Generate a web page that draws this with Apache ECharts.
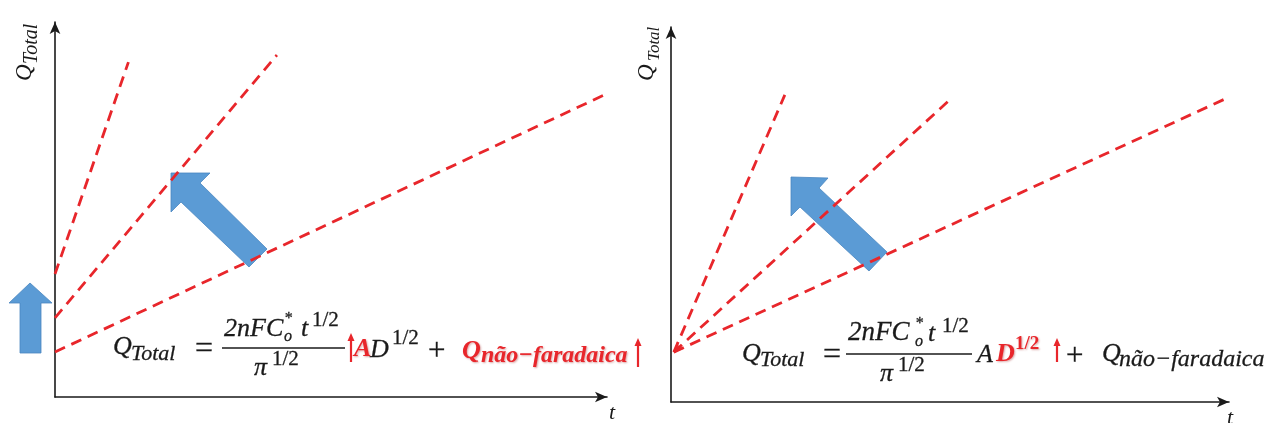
<!DOCTYPE html>
<html>
<head>
<meta charset="utf-8">
<script src="https://cdn.jsdelivr.net/npm/echarts@6/dist/echarts.min.js"></script>
<style>
html, body { margin: 0; padding: 0; background: #fff; }
#chart { width: 1268px; height: 423px; }
</style>
</head>
<body>
<div id="chart"></div>
<script>
// dashed lines, [t, Q] in axis units (0..100)
const leftSteep = [[0, 32.8], [13.3, 89.3]]
const leftMid = [[0, 21.1], [40.2, 91.2]]
const leftFlat = [[0, 12.0], [100, 80.9]]
const rightSteep = [[0.5, 13.3], [20.4, 81.9]]
const rightMid = [[0.5, 13.3], [50.5, 81.3]]
const rightFlat = [[0.5, 13.3], [100, 81.3]]
const rightOrigin = [[0.5, 13.3]]

const RED = '#e8262b'
const BLUE = '#5b9bd5'
const INK = '#1a1a1a'
const SERIF = '"Liberation Serif", "DejaVu Serif", serif'

let myChart = echarts.init(document.getElementById('chart'))

// text placed by its baseline
const tx = (s, x, base, size, opt) => {
    opt = opt || {}
    return {
        type: 'text',
        x: x,
        y: base - 0.32 * size,
        z: 10,
        style: {
            text: s,
            font: (opt.italic === false ? '' : 'italic ') + (opt.bold ? 'bold ' : '') + size + 'px ' + SERIF,
            fill: opt.color || INK,
            stroke: opt.bold ? 'transparent' : INK,
            lineWidth: opt.bold ? 0 : 0.3,
            align: 'left',
            verticalAlign: 'middle',
            textAlign: 'left',
            textVerticalAlign: 'middle',
            textShadowColor: opt.bold ? 'rgba(150,0,0,0.35)' : 'transparent',
            textShadowBlur: opt.bold ? 2 : 0,
            textShadowOffsetX: opt.bold ? 1 : 0,
            textShadowOffsetY: opt.bold ? 1 : 0
        }
    }
}
// rotated axis title (reads bottom to top)
const vtx = (s, x, y, size) => ({
    type: 'text',
    x: x,
    y: y,
    rotation: Math.PI / 2,
    style: {
        text: s,
        font: 'italic ' + size + 'px ' + SERIF,
        fill: INK,
        align: 'left',
        verticalAlign: 'bottom',
        textAlign: 'left',
        textVerticalAlign: 'bottom'
    }
})
const bar = (x1, x2, y) => ({
    type: 'line',
    z: 10,
    shape: { x1: x1, y1: y, x2: x2, y2: y },
    style: { stroke: INK, lineWidth: 1.4 }
})
const upArrow = (x, top, bottom) => ({
    type: 'group',
    z: 10,
    children: [
        { type: 'line', shape: { x1: x, y1: bottom, x2: x, y2: top + 6 }, style: { stroke: RED, lineWidth: 2.2 } },
        { type: 'polygon', shape: { points: [[x - 3.5, top + 8], [x, top], [x + 3.5, top + 8]] }, style: { fill: RED } }
    ]
})
const blueArrow = (pts) => ({
    type: 'polygon',
    z: 0,
    shape: { points: pts },
    style: { fill: BLUE, stroke: '#4a86c0', lineWidth: 0.8 }
})

const dashed = (xi, data) => ({
    type: 'line',
    xAxisIndex: xi,
    yAxisIndex: xi,
    data: data,
    symbol: 'none',
    silent: true,
    z: 3,
    lineStyle: { color: RED, width: 2.8, type: [11, 7] }
})

const axisX = (gi, gap) => ({
    type: 'value',
    gridIndex: gi,
    min: 0,
    max: 100,
    name: 't',
    nameLocation: 'end',
    nameGap: gap,
    nameTextStyle: {
        fontFamily: SERIF, fontStyle: 'italic', fontSize: 22, color: INK,
        align: 'center', verticalAlign: 'top', padding: [5, 0, 0, 0]
    },
    axisLine: { show: true, symbol: ['none', 'arrow'], symbolSize: [8, 12], lineStyle: { color: INK, width: 1.6 } },
    axisTick: { show: false },
    axisLabel: { show: false },
    splitLine: { show: false }
})
const axisY = (gi) => ({
    type: 'value',
    gridIndex: gi,
    min: 0,
    max: 100,
    axisLine: { show: true, symbol: ['none', 'arrow'], symbolSize: [8, 12], lineStyle: { color: INK, width: 1.6 } },
    axisTick: { show: false },
    axisLabel: { show: false },
    splitLine: { show: false }
})

const option = {
    animation: false,
    backgroundColor: '#fff',
    grid: [
        { left: 55, top: 22, width: 552, height: 375, containLabel: false, outerBoundsMode: 'none' },
        { left: 671, top: 27, width: 558, height: 375, containLabel: false, outerBoundsMode: 'none' }
    ],
    xAxis: [axisX(0, 5), axisX(1, 1)],
    yAxis: [axisY(0), axisY(1)],
    series: [
        dashed(0, leftSteep),
        dashed(0, leftMid),
        dashed(0, leftFlat),
        dashed(1, rightSteep),
        dashed(1, rightMid),
        dashed(1, rightFlat),
        {
            type: 'scatter',
            xAxisIndex: 1,
            yAxisIndex: 1,
            data: rightOrigin,
            symbol: 'arrow',
            symbolSize: [8, 10],
            symbolRotate: 135,
            itemStyle: { color: RED },
            silent: true
        }
    ],
    graphic: [
        // blue arrows
        blueArrow([[30, 283], [52, 303], [41, 303], [41, 353], [20, 353], [20, 303], [9, 303]]),
        blueArrow([[171, 173], [210, 173], [200, 183], [267, 249], [249, 267], [181, 202], [171, 212]]),
        blueArrow([[791, 177], [828, 178], [819, 188], [887, 252], [869, 271], [800, 207], [791, 216]]),

        // axis titles
        vtx('Q', 36, 81, 23),
        vtx('Total', 42, 64, 20),
        vtx('Q', 658, 81, 23),
        vtx('Total', 663, 61, 17),

        // left formula
        tx('Q', 113, 355, 26),
        tx('Total', 131, 361, 22),
        tx('=', 195, 360, 32, { italic: false }),
        tx('2nFC', 224, 337, 26),
        tx('*', 284, 324, 16),
        tx('o', 284, 342, 16),
        tx('t', 301, 337, 26),
        tx('1/2', 312, 327, 21, { italic: false }),
        bar(222, 345, 348),
        tx('π', 254, 376, 26),
        tx('1/2', 272, 366, 21, { italic: false }),
        upArrow(351, 333, 362),
        tx('A', 354, 358, 26, { bold: true, color: RED }),
        tx('D', 370, 358, 26),
        tx('1/2', 392, 345, 21, { italic: false }),
        tx('+', 428, 362, 31, { italic: false }),
        tx('Q', 462, 360, 26, { bold: true, color: RED }),
        tx('não−faradaica', 481, 363, 24, { bold: true, color: RED }),
        upArrow(638, 338, 367),

        // right formula
        tx('Q', 742, 362, 26),
        tx('Total', 760, 367, 22),
        tx('=', 823, 366, 32, { italic: false }),
        tx('2nFC', 848, 342, 27),
        tx('*', 915, 329, 16),
        tx('o', 915, 347, 16),
        tx('t', 928, 342, 26),
        tx('1/2', 942, 333, 21, { italic: false }),
        bar(846, 972, 354),
        tx('π', 880, 382, 26),
        tx('1/2', 898, 372, 21, { italic: false }),
        tx('A', 977, 363, 26),
        tx('D', 996, 363, 26, { bold: true, color: RED }),
        tx('1/2', 1015, 350, 19, { bold: true, italic: false, color: RED }),
        upArrow(1057, 338, 362),
        tx('+', 1066, 367, 31, { italic: false }),
        tx('Q', 1102, 362, 26),
        tx('não−faradaica', 1119, 367, 24)
    ]
}

myChart.setOption(option)
window.addEventListener('resize', () => {
    myChart.resize()
})
</script>
</body>
</html>
